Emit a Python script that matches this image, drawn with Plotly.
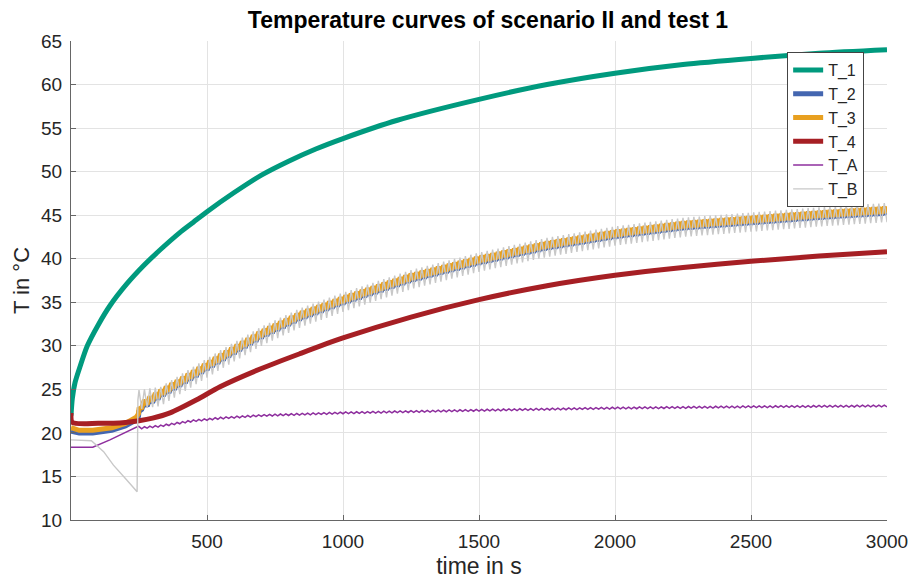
import numpy as np
import plotly.graph_objects as go

# ---- data ----
# T_1 (smooth)
T1_t = [0, 5, 15, 33, 60, 100, 143, 205, 270, 327, 400, 450, 500, 600, 700, 800, 900, 1000, 1200, 1500, 1750, 2000, 2250, 2500, 2750, 3000]
T1_v = [22.0, 24.0, 25.8, 27.6, 30.0, 32.4, 34.6, 37.1, 39.3, 41.0, 43.0, 44.2, 45.4, 47.6, 49.6, 51.2, 52.6, 53.8, 55.9, 58.3, 60.0, 61.3, 62.3, 63.0, 63.6, 64.0]

# T_4 (smooth)
T4_t = [0, 5, 100, 200, 250, 300, 364, 462, 548, 700, 842, 1000, 1250, 1500, 1750, 2000, 2250, 2500, 2750, 3000]
T4_v = [22.3, 21.2, 21.1, 21.2, 21.4, 21.7, 22.3, 23.8, 25.3, 27.4, 29.1, 30.9, 33.3, 35.3, 36.9, 38.1, 39.0, 39.7, 40.3, 40.8]

# T_3 trend and ripple half-amplitude
T3_t = [0, 30, 80, 150, 200, 240, 248, 258, 330, 450, 550, 700, 842, 1000, 1250, 1500, 1750, 2000, 2250, 2500, 2750, 3000]
T3_v = [20.6, 20.3, 20.3, 20.6, 21.1, 21.8, 22.2, 23.2, 24.6, 26.8, 28.7, 31.4, 33.5, 35.3, 37.9, 39.9, 41.6, 42.9, 43.9, 44.5, 45.1, 45.6]
T3_amp = 0.35

# T_2 trend (mostly hidden under T_3)
T2_t = [0, 30, 80, 150, 200, 240, 248, 258, 330, 450, 550, 700, 842, 1000, 1250, 1500, 1750, 2000, 2250, 2500, 2750, 3000]
T2_v = [20.2, 20.0, 20.0, 20.3, 20.8, 21.5, 21.9, 23.0, 24.4, 26.6, 28.5, 31.2, 33.3, 35.1, 37.7, 39.7, 41.4, 42.7, 43.7, 44.3, 44.9, 45.4]
T2_amp = 0.35

# T_A trend and ripple
TA_t = [0, 80, 143, 205, 247, 252, 330, 450, 550, 700, 1000, 1500, 2000, 2500, 3000]
TA_v = [18.35, 18.35, 19.2, 20.15, 20.75, 20.55, 20.8, 21.4, 21.7, 22.0, 22.3, 22.6, 22.85, 23.0, 23.1]
TA_amp = 0.1

# T_B trend and ripple
TB_t = [0, 75, 120, 156, 205, 243, 246, 330, 450, 550, 700, 842, 1000, 1250, 1500, 1750, 2000, 2250, 2500, 2750, 3000]
TB_v = [19.2, 19.1, 17.85, 16.3, 14.6, 13.25, 23.8, 24.2, 26.5, 28.4, 31.1, 33.2, 35.0, 37.6, 39.6, 41.3, 42.6, 43.6, 44.2, 44.8, 45.3]
TB_amp = 1.1

ripple_start = 250       # s, switching ripple begins
ripple_half_period = 10  # s

labels = ["T_1", "T_2", "T_3", "T_4", "T_A", "T_B"]
colors = ["#009a7e", "#4466b0", "#e8a020", "#a61f24", "#8e2f9e", "#c8c8c8"]
widths = [5, 5, 5, 5, 1.5, 1.4]


def rippled(nodes_t, nodes_v, amp):
    pre = [t for t in nodes_t if t < ripple_start]
    osc = np.arange(ripple_start, 3001, ripple_half_period)
    t = np.concatenate([pre, osc])
    v = np.interp(t, nodes_t, nodes_v)
    sign = np.concatenate([np.zeros(len(pre)), np.where(np.arange(len(osc)) % 2 == 0, 1.0, -1.0)])
    return t, v + amp * sign


series = [
    (np.array(T1_t), np.array(T1_v)),
    rippled(T2_t, T2_v, T2_amp),
    rippled(T3_t, T3_v, T3_amp),
    (np.array(T4_t), np.array(T4_v)),
    rippled(TA_t, TA_v, TA_amp),
    rippled(TB_t, TB_v, TB_amp),
]

fig = go.Figure()
for (t, v), name, c, w in zip(series, labels, colors, widths):
    if name in ("T_1", "T_4"):
        line = dict(color=c, width=w, shape="spline", smoothing=0.7)
    else:
        line = dict(color=c, width=w, shape="linear")
    fig.add_trace(go.Scatter(x=t, y=v, mode="lines", name=name, line=line))

FAM = "Liberation Sans, Arial, sans-serif"
tick_font = dict(family=FAM, size=19, color="#262626")

fig.update_layout(
    width=913, height=581,
    margin=dict(l=71, r=26, t=41, b=61),
    paper_bgcolor="white", plot_bgcolor="white",
    title=dict(text="<b>Temperature curves of scenario II and test 1</b>",
               xref="paper", x=0.511, xanchor="center",
               yref="container", y=1 - 20 / 581, yanchor="middle",
               font=dict(family=FAM, size=23, color="black")),
    font=tick_font,
    legend=dict(x=0.972, y=0.977, xanchor="right", yanchor="top",
                bgcolor="white", bordercolor="#444", borderwidth=1,
                font=dict(family=FAM, size=16, color="#262626"),
                tracegroupgap=0),
    showlegend=True,
)
fig.update_xaxes(range=[0, 3000], tickvals=[500, 1000, 1500, 2000, 2500, 3000],
                 showgrid=True, gridcolor="#e3e3e3", gridwidth=1,
                 showline=True, linecolor="#666", linewidth=1,
                 ticks="inside", ticklen=5, tickcolor="#666",
                 zeroline=False, tickfont=tick_font, automargin=False,
                 ticklabelstandoff=4,
                 title=dict(text="time in s", font=dict(family=FAM, size=23, color="#262626"), standoff=7))
fig.update_yaxes(range=[10, 65], tickvals=list(range(10, 66, 5)),
                 showgrid=True, gridcolor="#e3e3e3", gridwidth=1,
                 showline=True, linecolor="#666", linewidth=1,
                 ticks="inside", ticklen=5, tickcolor="#666",
                 zeroline=False, tickfont=tick_font, automargin=False,
                 ticklabelstandoff=4,
                 title=dict(text="T in °C", font=dict(family=FAM, size=22, color="#262626"), standoff=5))

# remove the default 8 px page margin so the figure fills the window exactly
fig.write_html("out.html", config={"displayModeBar": False},
               post_script="document.body.style.margin='0';")
